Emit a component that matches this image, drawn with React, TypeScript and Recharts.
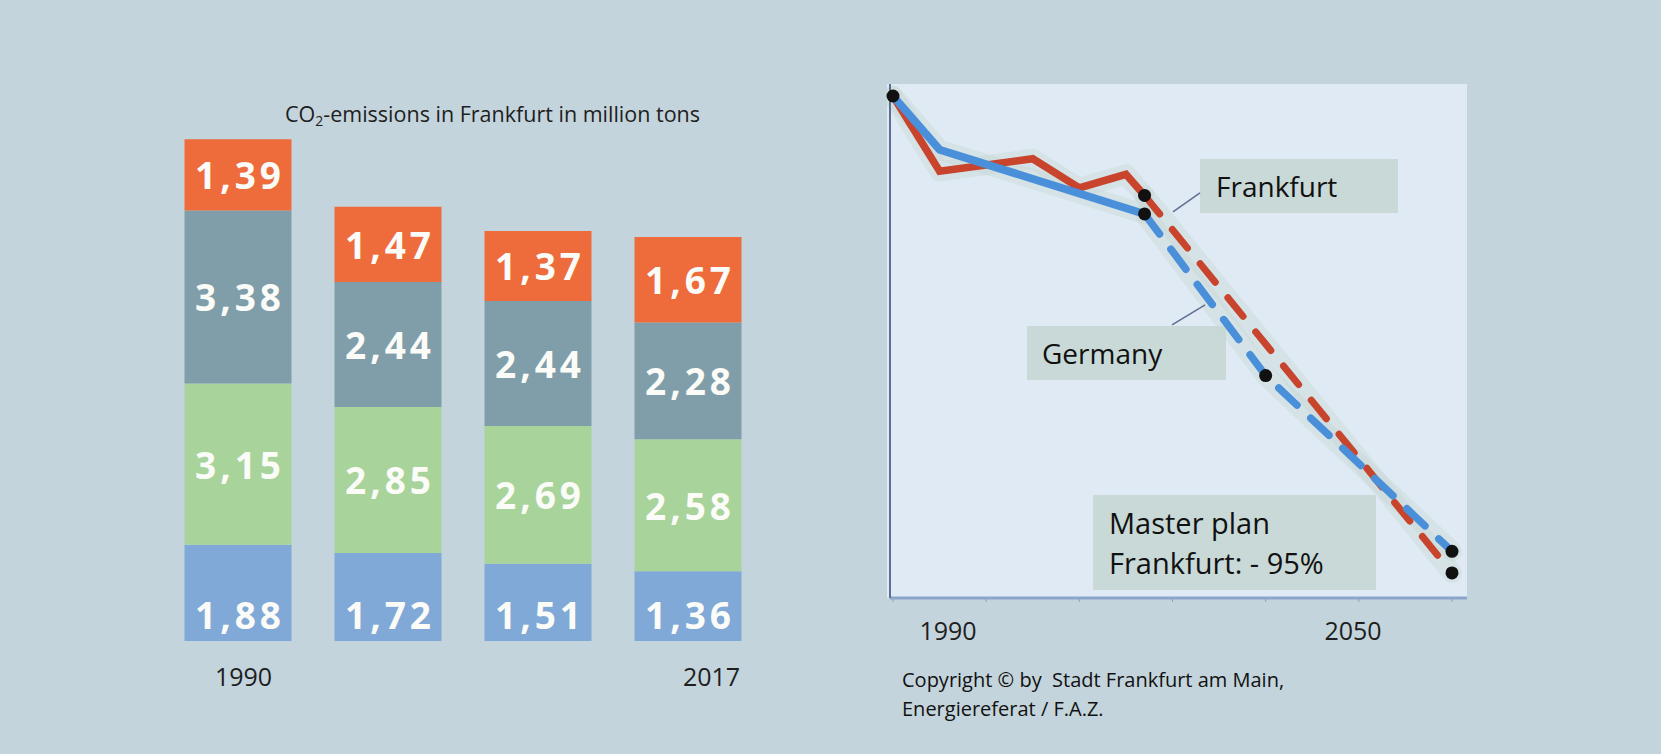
import React from 'react';
import { BarChart, Bar, XAxis, YAxis, LabelList, LineChart, Line, ReferenceLine } from 'recharts';

// --- stacked bars: CO2 emissions in million tons ---
const categories = ['1990', '', '', '2017'];
const blueValues = [1.88, 1.72, 1.51, 1.36];
const greenValues = [3.15, 2.85, 2.69, 2.58];
const greyValues = [3.38, 2.44, 2.44, 2.28];
const orangeValues = [1.39, 1.47, 1.37, 1.67];

// --- reduction path, 1990 = 100 ---
const frankfurtYears = [1990, 1995, 2005, 2010, 2015, 2017];
const frankfurtValues = [100, 85, 87.5, 81.7, 84.4, 80.2];
const frankfurtPlanYears = [2017, 2050];
const frankfurtPlanValues = [80.2, 5];

const germanyYears = [1990, 1995, 2017];
const germanyValues = [100, 89.3, 76.5];
const germanyPlanYears = [2017, 2030, 2050];
const germanyPlanValues = [76.5, 44.3, 9.3];

const xTicks = [1990, 2000, 2010, 2020, 2030, 2040, 2050];
const xLabels = ['1990', '2050'];
const yTicks = [0, 20, 40, 60, 80, 100];

const FONT = "'Open Sans', sans-serif";
const COLORS = {
  page: '#c4d4dc',
  plot: '#dfeaf4',
  box: '#c8d9d7',
  orange: '#ee6b3b',
  grey: '#809eaa',
  green: '#a8d49b',
  blue: '#80a9d7',
  red: '#c8442c',
  lineBlue: '#4a8fda',
  halo: '#c6d7d1',
  yAxis: '#5d6f92',
  xAxis: '#8aa5c9',
};

const barData = categories.map((label, idx) => ({
  idx,
  label,
  blue: blueValues[idx],
  green: greenValues[idx],
  grey: greyValues[idx],
  orange: orangeValues[idx],
}));

const toSeries = (years: number[], values: number[]) => years.map((year, i) => ({ year, v: values[i] }));
const frankfurt = toSeries(frankfurtYears, frankfurtValues);
const frankfurtPlan = toSeries(frankfurtPlanYears, frankfurtPlanValues);
const germany = toSeries(germanyYears, germanyValues);
const germanyPlan = toSeries(germanyPlanYears, germanyPlanValues);

// callout leader lines (year / percent)
const frankfurtLeader = [{ x: 2020.05, y: 76.9 }, { x: 2022.95, y: 80.7 }];
const germanyLeader = [{ x: 2019.95, y: 54.4 }, { x: 2023.5, y: 58.4 }];

const fmt = (v: number) => v.toFixed(2).replace('.', ',');

const LABEL_SPACING = 4;
const SegmentLabel = (props: any) => {
  const vb = props.viewBox || props;
  const { x, y, width, height } = vb;
  const cx = x + width / 2 + LABEL_SPACING / 2;
  const cy = props.anchorBottom ? y + height - 26.5 : y + height / 2;
  return (
    <text x={cx} y={cy} textAnchor="middle" dominantBaseline="central" fill="#fbfbf7"
      fontFamily={FONT} fontWeight={700} fontSize={37} letterSpacing={LABEL_SPACING}>
      {fmt(Number(props.value))}
    </text>
  );
};

const labelShift = [6, 0, 0, 24];
const BarTick = (props: any) => {
  const { x, y, payload } = props;
  const text = categories[payload.value];
  if (!text) return <g />;
  return (
    <text x={x + labelShift[payload.value]} y={y + 27} textAnchor="middle" dominantBaseline="central"
      fontFamily={FONT} fontSize={25} fill="#1e1e1e">{text}</text>
  );
};

const tickShift: Record<string, number> = { '1990': 55, '2050': -99 };
const YearTick = (props: any) => {
  const { x, y, payload } = props;
  const text = String(payload.value);
  if (!xLabels.includes(text)) return <g />;
  return (
    <text x={x + tickShift[text]} y={y + 26} textAnchor="middle" dominantBaseline="central"
      fontFamily={FONT} fontSize={25} fill="#1e1e1e">{text}</text>
  );
};

const startDot = (p: any) =>
  p.index === 0 ? <circle key={p.key} cx={p.cx} cy={p.cy} r={6.5} fill="#111" /> : <g key={p.key} />;

const planDot = { r: 6.5, fill: '#111', stroke: 'none' };

const boxStyle: React.CSSProperties = {
  position: 'absolute',
  background: COLORS.box,
  display: 'flex',
  flexDirection: 'column',
  justifyContent: 'center',
  fontFamily: FONT,
  fontSize: 28,
  color: '#111',
  boxSizing: 'border-box',
};

export default function App() {
  return (
    <div style={{ position: 'absolute', left: 0, top: 0, width: 1661, height: 754, background: COLORS.page, overflow: 'hidden' }}>
      {/* plot panel + callout boxes sit under the line chart */}
      <div style={{ position: 'absolute', left: 887, top: 84, width: 580, height: 514, background: COLORS.plot }} />
      <div style={{ ...boxStyle, left: 1200, top: 159, width: 198, height: 54, paddingLeft: 16 }}>Frankfurt</div>
      <div style={{ ...boxStyle, left: 1027, top: 326, width: 199, height: 54, paddingLeft: 15 }}>Germany</div>
      <div style={{ ...boxStyle, left: 1093, top: 495, width: 283, height: 95, paddingLeft: 16, fontSize: 29, lineHeight: '40px' }}>
        <div>Master plan</div>
        <div>Frankfurt: - 95%</div>
      </div>

      <div style={{ position: 'absolute', left: 0, top: 0 }}>
        <BarChart width={800} height={720} data={barData} barSize={107}
          margin={{ top: 129, right: 37.5, bottom: 49, left: 162.5 }}>
          <XAxis dataKey="idx" axisLine={false} tickLine={false} interval={0} tick={<BarTick />} />
          <YAxis hide domain={[0, 10]} />
          <Bar dataKey="blue" stackId="co2" fill={COLORS.blue} isAnimationActive={false}>
            <LabelList dataKey="blue" content={(p: any) => <SegmentLabel {...p} anchorBottom />} />
          </Bar>
          <Bar dataKey="green" stackId="co2" fill={COLORS.green} isAnimationActive={false}>
            <LabelList dataKey="green" content={(p: any) => <SegmentLabel {...p} />} />
          </Bar>
          <Bar dataKey="grey" stackId="co2" fill={COLORS.grey} isAnimationActive={false}>
            <LabelList dataKey="grey" content={(p: any) => <SegmentLabel {...p} />} />
          </Bar>
          <Bar dataKey="orange" stackId="co2" fill={COLORS.orange} isAnimationActive={false}>
            <LabelList dataKey="orange" content={(p: any) => <SegmentLabel {...p} />} />
          </Bar>
        </BarChart>
      </div>

      <div style={{ position: 'absolute', left: 850, top: 60 }}>
        <LineChart width={640} height={600} margin={{ top: 24, right: 23, bottom: 32, left: 30 }}>
          <XAxis type="number" dataKey="year" domain={[1990, 2050]} ticks={xTicks} padding={{ left: 3, right: 15 }}
            axisLine={{ stroke: COLORS.xAxis, strokeWidth: 3 }} tickLine={{ stroke: COLORS.xAxis }} tickSize={4}
            tick={<YearTick />} height={30} />
          <YAxis type="number" domain={[0, 100]} ticks={yTicks} padding={{ top: 12 }} width={10}
            axisLine={{ stroke: COLORS.yAxis, strokeWidth: 2 }} tickLine={{ stroke: COLORS.yAxis }} tickSize={4} tick={false} />

          {/* soft haze along the paths */}
          {[frankfurt, germany, frankfurtPlan, germanyPlan].map((d, i) => (
            <Line key={`halo${i}`} data={d} dataKey="v" stroke={COLORS.halo} strokeWidth={20} strokeOpacity={0.4}
              strokeLinejoin="round" strokeLinecap="round" dot={false} activeDot={false} isAnimationActive={false} />
          ))}

          <ReferenceLine segment={frankfurtLeader} stroke={COLORS.yAxis} strokeWidth={1.5} />
          <ReferenceLine segment={germanyLeader} stroke={COLORS.yAxis} strokeWidth={1.5} />

          <Line data={frankfurt} dataKey="v" stroke={COLORS.red} strokeWidth={7.5} strokeLinejoin="miter"
            dot={false} activeDot={false} isAnimationActive={false} />
          <Line data={germany} dataKey="v" stroke={COLORS.lineBlue} strokeWidth={8} strokeLinejoin="round"
            dot={startDot} activeDot={false} isAnimationActive={false} />
          <Line data={frankfurtPlan} dataKey="v" stroke={COLORS.red} strokeWidth={7} strokeDasharray="24 20"
            strokeLinecap="round" dot={planDot} activeDot={false} isAnimationActive={false} />
          <Line data={germanyPlan} dataKey="v" stroke={COLORS.lineBlue} strokeWidth={7.5} strokeDasharray="25 19"
            strokeLinecap="round" dot={planDot} activeDot={false} isAnimationActive={false} />
        </LineChart>
      </div>

      <div style={{ position: 'absolute', left: 0, width: 985, top: 100, textAlign: 'center', fontFamily: FONT, fontSize: 21.5, color: '#1e1e1e', lineHeight: '28px' }}>
        CO<sub style={{ fontSize: 14, verticalAlign: -4 }}>2</sub>-emissions in Frankfurt in million tons
      </div>

      <div style={{ position: 'absolute', left: 902, top: 665, fontFamily: FONT, fontSize: 20, color: '#111', lineHeight: '29px', whiteSpace: 'pre' }}>
        <div>Copyright © by  Stadt Frankfurt am Main,</div>
        <div>Energiereferat / F.A.Z.</div>
      </div>
    </div>
  );
}
